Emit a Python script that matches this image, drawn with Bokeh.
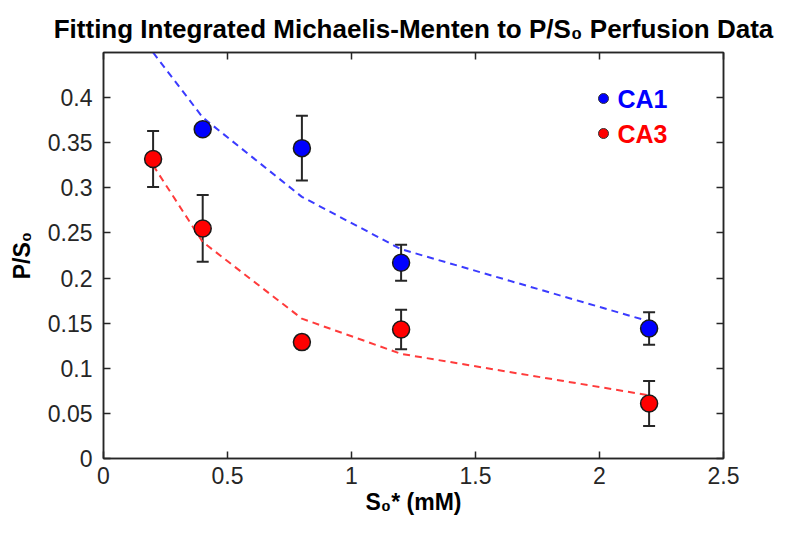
from bokeh.plotting import figure
from bokeh.models import (Range1d, LinearAxis, FixedTicker, Label, Whisker,
                          ColumnDataSource, TeeHead, CustomJSTickFormatter)
from bokeh.embed import file_html
from bokeh.resources import INLINE

# ---------------- data ----------------
ca1_x = [0.4, 0.8, 1.2, 2.2]
ca1_y = [0.365, 0.344, 0.217, 0.144]
ca1_err = [0.004, 0.036, 0.020, 0.018]

ca3_x = [0.2, 0.4, 0.8, 1.2, 2.2]
ca3_y = [0.332, 0.255, 0.129, 0.143, 0.061]
ca3_err = [0.031, 0.037, 0.007, 0.022, 0.025]

fit_x = [0.2, 0.4, 0.8, 1.2, 2.2]
fit_ca1 = [0.450, 0.378, 0.290, 0.232, 0.152]
fit_ca3 = [0.325, 0.240, 0.155, 0.116, 0.070]

x_ticks = [0, 0.5, 1, 1.5, 2, 2.5]
y_ticks = [0, 0.05, 0.1, 0.15, 0.2, 0.25, 0.3, 0.35, 0.4]

TITLE = "Fitting Integrated Michaelis-Menten to P/S\u2080 Perfusion Data"
XLABEL = "S\u2080* (mM)"
YLABEL = "P/S\u2080"

BLUE = "#0000ff"
RED = "#ff0000"
DASH_BLUE = "#3b3bff"
DASH_RED = "#ff3b3b"
AX = "#262626"
FONT = "Liberation Sans"

# ---------------- layout (canvas px) ----------------
X0, X1, Y0, Y1 = 0.0, 2.5, 0.0, 0.45
FL, FT, FW, FH = 103, 52, 620, 406


def dx(px):
    return X0 + (px - FL) / FW * (X1 - X0)


def dy(py):
    return Y0 + (FT + FH - py) / FH * (Y1 - Y0)


p = figure(frame_width=FW, frame_height=FH, output_backend="svg", toolbar_location=None,
           x_range=Range1d(X0, X1), y_range=Range1d(Y0, Y1),
           min_border_left=FL, min_border_top=FT,
           min_border_right=784 - FL - FW, min_border_bottom=517 - FT - FH,
           background_fill_color="white", border_fill_color="white")
p.xgrid.visible = False
p.ygrid.visible = False
p.outline_line_color = AX
p.outline_line_width = 1.5

p.title.text = TITLE
p.title.align = "center"
p.title.text_font = FONT
p.title.text_font_size = "26px"
p.title.text_font_style = "bold"
p.title.text_color = "black"
p.title.standoff = 18

for ax, ticks in ((p.xaxis[0], x_ticks), (p.yaxis[0], y_ticks)):
    ax.ticker = FixedTicker(ticks=ticks)
    ax.major_tick_in = 7
    ax.major_tick_out = 0
    ax.minor_tick_in = 0
    ax.minor_tick_out = 0
    ax.axis_line_color = AX
    ax.axis_line_width = 1.5
    ax.major_tick_line_color = AX
    ax.major_tick_line_width = 1.5
    ax.major_label_text_font = FONT
    ax.major_label_text_font_size = "23px"
    ax.major_label_text_color = AX
    ax.axis_label_text_font = FONT
    ax.axis_label_text_font_style = "bold"
    ax.axis_label_text_font_size = "23px"
    ax.axis_label_text_color = "black"
p.xaxis[0].axis_label = XLABEL
p.yaxis[0].axis_label = YLABEL
p.xaxis[0].major_label_standoff = 8
p.xaxis[0].axis_label_standoff = 2
p.yaxis[0].major_label_standoff = 11
p.yaxis[0].axis_label_standoff = 10

blank = CustomJSTickFormatter(code="return ''")
for loc, ticks in (("right", y_ticks), ("above", x_ticks)):
    a = LinearAxis(ticker=FixedTicker(ticks=ticks), formatter=blank,
                   major_tick_in=7, major_tick_out=0, minor_tick_in=0, minor_tick_out=0,
                   axis_line_color=AX, axis_line_width=1.5,
                   major_tick_line_color=AX, major_tick_line_width=1.5,
                   major_label_standoff=0, major_label_text_font_size="1px")
    p.add_layout(a, loc)

# fit lines
p.line(fit_x, fit_ca1, line_color=DASH_BLUE, line_width=2, line_dash="7 5")
p.line(fit_x, fit_ca3, line_color=DASH_RED, line_width=2, line_dash="7 5")

# error bars
for xs, ys, es in ((ca1_x, ca1_y, ca1_err), (ca3_x, ca3_y, ca3_err)):
    src = ColumnDataSource(dict(x=xs, lo=[y - e for y, e in zip(ys, es)],
                                hi=[y + e for y, e in zip(ys, es)]))
    w = Whisker(source=src, base="x", lower="lo", upper="hi", dimension="height",
                line_color=AX, line_width=2,
                lower_head=TeeHead(size=12, line_color=AX, line_width=2),
                upper_head=TeeHead(size=12, line_color=AX, line_width=2))
    p.add_layout(w)

# markers
p.scatter(ca1_x, ca1_y, size=17, fill_color=BLUE, line_color="#1a1a1a", line_width=1.5)
p.scatter(ca3_x, ca3_y, size=17, fill_color=RED, line_color="#1a1a1a", line_width=1.5)

# legend (manual, inside the frame)
leg_names = ["CA1", "CA3"]
leg_colors = [BLUE, RED]
leg_py = [98, 133]
p.scatter([dx(603)] * 2, [dy(v) for v in leg_py], size=10, fill_color=leg_colors,
          line_color="#333333", line_width=1)
for name, col, py in zip(leg_names, leg_colors, leg_py):
    p.add_layout(Label(x=dx(617), y=dy(py), text=name, text_color=col,
                       text_font=FONT, text_font_style="bold", text_font_size="25px",
                       text_baseline="middle", text_align="left"))

html = file_html(p, INLINE)
open("out.html", "w").write(html)
